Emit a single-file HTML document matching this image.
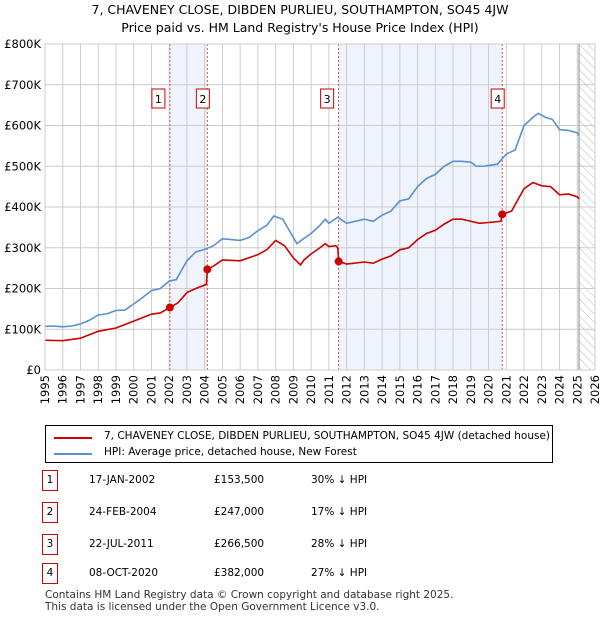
<!DOCTYPE html>
<html><head><meta charset="utf-8"><style>
body{margin:0;width:600px;height:620px;background:#fff;font-family:"DejaVu Sans","Liberation Sans",sans-serif;position:relative;overflow:hidden}
.abs{position:absolute}
.t{font-size:12px;color:#000}
</style></head><body>
<div class="abs" style="left:0;width:600px;top:1px;text-align:center;font-size:12.5px;line-height:18px">7, CHAVENEY CLOSE, DIBDEN PURLIEU, SOUTHAMPTON, SO45 4JW<br>Price paid vs. HM Land Registry's House Price Index (HPI)</div>
<svg class="abs" style="left:0;top:0" width="600" height="420" id="chart"></svg>
<div class="abs" style="left:45px;top:425px;width:506px;height:36px;border:1px solid #000;font-size:10.5px;white-space:nowrap">
 <div style="position:absolute;left:8px;top:11px;width:38px;height:2px;background:#cc0000"></div>
 <div style="position:absolute;left:58px;top:4px">7, CHAVENEY CLOSE, DIBDEN PURLIEU, SOUTHAMPTON, SO45 4JW (detached house)</div>
 <div style="position:absolute;left:8px;top:27px;width:38px;height:2px;background:#5b8fd0"></div>
 <div style="position:absolute;left:58px;top:20px">HPI: Average price, detached house, New Forest</div>
</div>
<div id="tbl"></div>
<div class="abs" style="left:45px;top:589px;font-size:10.5px;color:#333;line-height:12px">Contains HM Land Registry data © Crown copyright and database right 2025.<br>This data is licensed under the Open Government Licence v3.0.</div>
<script>
const hpiYears=[1995,1995.5,1996,1996.5,1997,1997.5,1998,1998.5,1999,1999.5,2000,2000.5,2001,2001.5,2002,2002.4,2003,2003.5,2004,2004.5,2005,2005.5,2006,2006.5,2007,2007.5,2007.9,2008.4,2008.8,2009.2,2009.5,2010,2010.5,2010.8,2011,2011.5,2012,2012.5,2013,2013.5,2014,2014.5,2015,2015.5,2016,2016.5,2017,2017.5,2018,2018.5,2019,2019.3,2019.7,2020,2020.5,2021,2021.5,2022,2022.5,2022.8,2023.2,2023.6,2024,2024.5,2025,2025.1];
const hpiValues=[107,108,106,108,113,122,135,138,146,147,162,178,195,200,218,222,268,290,296,305,322,320,318,325,342,355,378,370,340,310,320,335,355,370,360,375,360,365,370,365,380,390,415,420,450,470,480,500,512,512,510,500,500,502,505,530,540,600,620,630,620,615,590,588,582,575];
const ppYears=[1995,1996,1997,1998,1999,2000,2001,2001.5,2002.04,2002.5,2003,2003.5,2004.1,2004.15,2004.5,2005,2006,2007,2007.5,2008,2008.5,2009,2009.4,2009.6,2010,2010.5,2010.8,2011,2011.4,2011.5,2011.55,2012,2013,2013.5,2014,2014.5,2015,2015.5,2016,2016.5,2017,2017.5,2018,2018.5,2019,2019.5,2020,2020.7,2020.77,2021.3,2022,2022.5,2023,2023.5,2024,2024.5,2025,2025.1];
const ppValues=[73,72,78,95,103,120,137,140,153.5,165,190,200,210,247,255,270,268,283,295,318,305,275,258,270,285,300,310,303,305,300,266.5,260,265,262,272,280,295,300,320,335,343,358,370,370,365,360,362,365,382,390,445,460,452,450,430,432,425,420];
const saleYears=[2002.04,2004.15,2011.55,2020.77];
const saleValues=[153.5,247,266.5,382];
const saleLabels=["1","2","3","4"];
const saleDates=["17-JAN-2002","24-FEB-2004","22-JUL-2011","08-OCT-2020"];
const salePrices=["£153,500","£247,000","£266,500","£382,000"];
const saleDiffs=["30% ↓ HPI","17% ↓ HPI","28% ↓ HPI","27% ↓ HPI"];
const yTicks=[0,100,200,300,400,500,600,700,800];
const yTickLabels=["£0","£100K","£200K","£300K","£400K","£500K","£600K","£700K","£800K"];
const xTicks=[];for(let y=1995;y<=2026;y++)xTicks.push(y);

const X0=45,X1=595,Y0=370,Y1=44;
const xs=y=>X0+(y-1995)*(X1-X0)/31;
const ys=v=>Y0-v*(Y0-Y1)/800;
const NS="http://www.w3.org/2000/svg";
const svg=document.getElementById('chart');
function mk(tag,attrs,parent){const e=document.createElementNS(NS,tag);for(const k in attrs)e.setAttribute(k,attrs[k]);(parent||svg).appendChild(e);return e;}
const defs=mk('defs',{});
const pat=mk('pattern',{id:'hatch',width:6,height:6,patternUnits:'userSpaceOnUse',patternTransform:'rotate(-45)'},defs);
mk('line',{x1:0,y1:0,x2:0,y2:6,stroke:'#bbb','stroke-width':1},pat);
for(const [a,b] of [[saleYears[0],saleYears[1]],[saleYears[2],saleYears[3]]]){
 const r=mk('rect',{x:xs(a),y:Y1,width:xs(b)-xs(a),height:Y0-Y1,fill:'#eef3fc'});
 
 
}
const hr=mk('rect',{x:xs(2025.1),y:Y1,width:X1-xs(2025.1),height:Y0-Y1,fill:'url(#hatch)'});


xTicks.forEach((t,i)=>{
 mk('line',{x1:xs(t),x2:xs(t),y1:Y1,y2:Y0,stroke:'#ccc','stroke-width':1});
 const tx=mk('text',{x:0,y:0,transform:`translate(${xs(t)+4},${Y0+5}) rotate(-90)`,'text-anchor':'end','font-size':11.5,fill:'#000'});
 tx.textContent=t;
 
 
});
yTicks.forEach((t,i)=>{
 mk('line',{x1:X0,x2:X1,y1:ys(t),y2:ys(t),stroke:'#ccc','stroke-width':1});
 const tx=mk('text',{x:X0-4,y:ys(t)+4,'text-anchor':'end','font-size':11.5,fill:'#000'});
 tx.textContent=yTickLabels[i];
 
 
});
mk('line',{x1:xs(2025.1),x2:xs(2025.1),y1:Y1,y2:Y0,stroke:'#888','stroke-width':1});
saleYears.forEach((y,i)=>{
 mk('line',{x1:xs(y),x2:xs(y),y1:Y1,y2:Y0,stroke:'#e05050','stroke-width':1,'stroke-dasharray':'2,2'});
 const g=mk('g',{});
 
 
 mk('rect',{x:xs(y)-(i%2==0?12:5)-6,y:89,width:13,height:19,fill:'#fff',stroke:'#cc0000'},g);
 const t=mk('text',{x:xs(y)-(i%2==0?12:5)+0.5,y:103,'text-anchor':'middle','font-size':11},g);
 t.textContent=saleLabels[i];
});
function line(xa,va,color,name){
 const p=mk('polyline',{points:xa.map((x,i)=>xs(x)+','+ys(va[i])).join(' '),fill:'none',stroke:color,'stroke-width':1.6});
 
 
}
line(hpiYears,hpiValues,'#5b8fd0','hpi-line');
line(ppYears,ppValues,'#cc0000','price-paid-line');
saleYears.forEach((y,i)=>{
 const c=mk('circle',{cx:xs(y),cy:ys(saleValues[i]),r:4,fill:'#cc0000'});
 
 
});
mk('rect',{x:X0,y:Y1,width:X1-X0,height:Y0-Y1,fill:'none',stroke:'#ccc'});
const tbl=document.getElementById('tbl');
const rowsY=[482,514,546,575];
saleLabels.forEach((l,i)=>{
 const r=document.createElement('div');
 
 
 r.className='abs t';r.style.left='0';r.style.top=(rowsY[i]-9)+'px';r.style.width='600px';r.style.fontSize='10.5px';r.style.whiteSpace='nowrap';
 r.innerHTML=`<div class="abs" style="left:42px;top:-3px;width:14px;height:19px;border:1px solid #cc0000;text-align:center;line-height:19px">${l}</div><div class="abs" style="left:89px;top:1px">${saleDates[i]}</div><div class="abs" style="left:214px;top:1px">${salePrices[i]}</div><div class="abs" style="left:311px;top:1px">${saleDiffs[i]}</div>`;
 tbl.appendChild(r);
});
</script>
</body></html>
